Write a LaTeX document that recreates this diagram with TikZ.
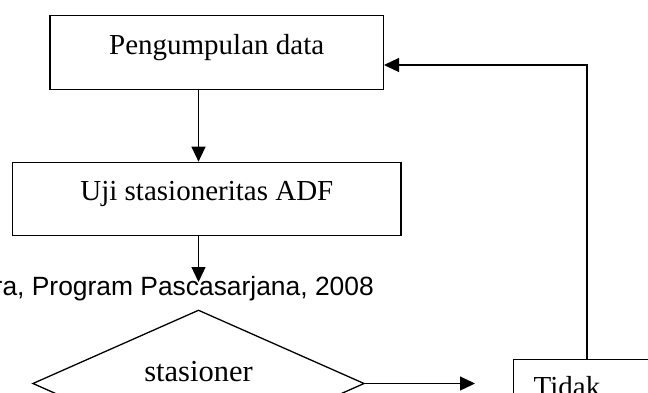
\documentclass[tikz,border=0pt]{standalone}
\usepackage{fontspec}
\setmainfont{Liberation Serif}
\newfontfamily\arialf{Liberation Sans}
\usetikzlibrary{arrows.meta,shapes.geometric}
\tikzset{
  flowbox/.style={draw, line width=1.3pt, inner xsep=0pt, inner ysep=0pt, font=\fontsize{29}{34}\selectfont},
  arr/.style={draw, line width=1.3pt, -{Triangle[length=15pt,width=14pt]}},
  plain/.style={draw, line width=1.3pt}
}
\begin{document}
\begin{tikzpicture}[x=1pt,y=-1pt]
\useasboundingbox (0,0) rectangle (648,392);
\clip (0,0) rectangle (648,392);
\node[flowbox, minimum width=333.3pt, minimum height=73.6pt, text height=20pt, text depth=17pt] (box1) at (216.7,52.5) {Pengumpulan data};
\node[flowbox, minimum width=388.3pt, minimum height=73.4pt, text height=20pt, text depth=18pt] (box2) at (206.85,199) {Uji stasioneritas ADF};
\node[flowbox, diamond, minimum width=331.6pt, minimum height=147pt, text height=16pt, text depth=19.6pt, font=\fontsize{30.5}{34}\selectfont] (dec) at (198.5,383.5) {stasioner};
\node[flowbox, anchor=north west, minimum height=77pt, text width=180pt, align=left, inner xsep=20.3pt, text height=37pt, text depth=40pt] (tidak) at (512.7,359) {Tidak};
\node[anchor=base east, inner sep=0pt, font=\arialf\fontsize{26.4}{30}\selectfont] (src) at (374,295) {ra, Program Pascasarjana, 2008};
\coordinate (xa) at (198.5,0);
\coordinate (fb) at (587,65);
\coordinate (t2) at (198.5,282);
\coordinate (t3) at (475,383.5);
\draw[arr] (box1.south -| xa) -- (box2.north -| xa);
\draw[arr] (box2.south -| xa) -- (t2);
\draw[arr] (dec.east) -- (t3);
\draw[arr] (tidak.north -| fb) |- (box1.east |- fb);
\end{tikzpicture}
\end{document}
